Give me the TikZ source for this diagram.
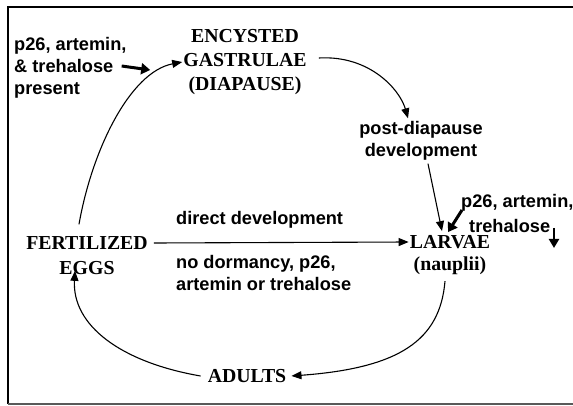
\documentclass[tikz,border=0pt]{standalone}
\usepackage{fontspec}
\setmainfont{Liberation Serif}
\newfontfamily\sansf{Liberation Sans}
\usetikzlibrary{arrows.meta}
\begin{document}
\begin{tikzpicture}[x=1pt,y=-1pt,
  serif/.style={font=\fontsize{19.8}{24}\selectfont\bfseries, inner sep=0pt, align=center},
  sans/.style={font=\fontsize{18.2}{22}\sansf\bfseries, inner sep=0pt},
  conn/.style={line width=1.1pt, -{Triangle[length=10pt,width=8pt]}},
  fat/.style={line width=3pt, -{Triangle[length=9pt,width=11pt]}}]
\useasboundingbox (0,0) rectangle (573,406);
\draw[line width=2pt] (573,7) -- (8,7) -- (8,404);
\draw[line width=1.5pt, black!65] (8,404) -- (573,404);

\node[serif] (ency) at (245,62) {ENCYSTED\\GASTRULAE\\(DIAPAUSE)};
\node[sans, align=left, anchor=west] (pres) at (14,68) {p26, artemin,\\\& trehalose\\present};
\node[sans, align=center] (post) at (421,141) {post-diapause\\development};
\node[serif] (fert) at (87,243) {FERTILIZED};
\node[serif] (eggs) at (87,268) {EGGS};
\node[serif] (larvae) at (450,242) {LARVAE};
\node[serif] (naup) at (450,266) {(nauplii)};
\node[serif] (adults) at (247,376) {ADULTS};
\node[sans, anchor=west] (direct) at (176,220) {direct development};
\node[sans, align=left, anchor=west] (nodorm) at (176,273) {no dormancy, p26,\\artemin or trehalose};
\node[sans, anchor=west] (p26b) at (461,203) {p26, artemin,};
\node[sans, anchor=west] (treh) at (469,226) {trehalose};
\coordinate (dn1) at (554,228);
\coordinate (dn2) at (554,248);

\draw[conn] ([shift={(-8,-12)}]fert.north) .. controls (92,150) and (130,72) .. ([xshift=-1]ency.west);
\draw[fat] ([shift={(-5,-2)}]pres.east) -- ([shift={(-33,8)}]ency.west);
\draw[conn] ([shift={(12,-4)}]ency.east) .. controls (370,55) and (400,90) .. ([shift={(-13,-3)}]post.north);
\draw[conn] ([shift={(7,3)}]post.south) -- ([shift={(-8,-4)}]larvae.north);
\draw[fat] ([shift={(1,7)}]p26b.west) -- ([shift={(-2,-3)}]larvae.north);
\draw[conn] ([xshift=6]fert.east) -- ([xshift=-1]larvae.west);
\draw[conn] ([shift={(-5,6)}]naup.south) .. controls (440,340) and (400,368) .. ([xshift=5]adults.east);
\draw[conn] ([xshift=-7]adults.west) .. controls (120,362) and (72,325) .. ([shift={(-12,-4)}]eggs.south);
\draw[line width=2.5pt, -{Triangle[length=9pt,width=10pt]}] (dn1) -- (dn2);
\end{tikzpicture}
\end{document}
